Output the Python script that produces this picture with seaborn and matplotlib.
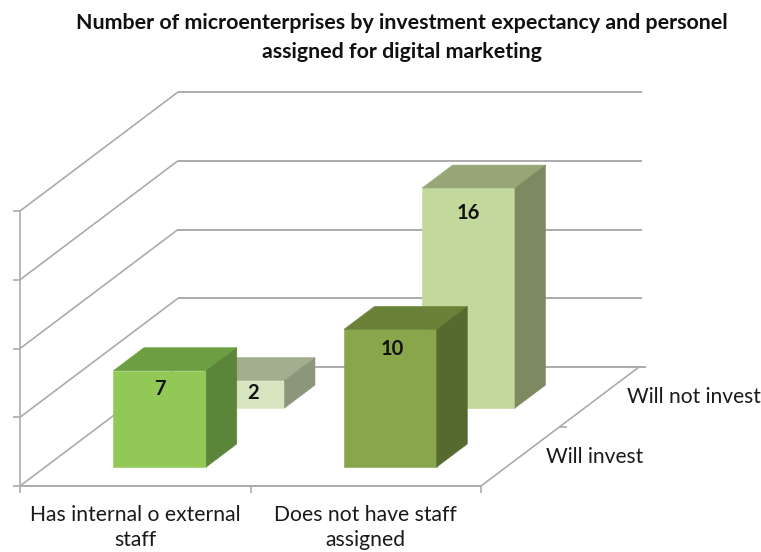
import matplotlib
matplotlib.use("Agg")
import matplotlib.pyplot as plt
from matplotlib.patches import Polygon
import seaborn as sns

sns.set_theme(style="white")
plt.rcParams["font.family"] = ["Lato", "DejaVu Sans"]

# ---- data ----
categories = ["Has internal o external\nstaff", "Does not have staff\nassigned"]
series_names = ["Will invest", "Will not invest"]
will_invest = [7, 10]
will_not_invest = [2, 16]
value_ticks = [0, 5, 10, 15, 20]
title = "Number of microenterprises by investment expectancy and personel\nassigned for digital marketing"

# ---- colours per (series, category): front, top, side ----
colors = {
    (0, 0): ("#92C956", "#6C9F41", "#5B8639"),
    (0, 1): ("#8AA64B", "#6A8238", "#566A2F"),
    (1, 0): ("#D6E5C0", "#A3AE8E", "#8B967B"),
    (1, 1): ("#C3D89B", "#97A677", "#7D8A61"),
}
GRID = "#ABABAB"
TEXT = "#1A1A1A"

# label offsets from the bar's front top centre, px (layout)
label_offsets = {
    (0, 0): (0, 18),
    (0, 1): (2, 20),
    (1, 0): (15, 12),
    (1, 1): (0, 25),
}

# ---- oblique projection (layout) ----
ORIGIN = (20.0, 486.0)
CAT_W = 230.5       # px per category
UNIT = 13.75        # px per value unit
DEPTH = (158.0, -119.0)  # px for the full depth of the floor


def project(c, d, v):
    """c: category units, d: depth fraction, v: value -> pixel position."""
    return (ORIGIN[0] + c * CAT_W + d * DEPTH[0],
            ORIGIN[1] + d * DEPTH[1] - v * UNIT)


fig = plt.figure(figsize=(7.61, 5.52), dpi=100, facecolor="white")
ax = fig.add_axes([0, 0, 1, 1])
ax.set_xlim(0, 761)
ax.set_ylim(552, 0)
ax.axis("off")


def line(p, q, lw=1.2, color=GRID, z=1):
    ax.plot([p[0], q[0]], [p[1], q[1]], color=color, lw=lw, zorder=z,
            solid_capstyle="butt")


n = len(categories)
vmax = value_ticks[-1]

# walls and gridlines
for v in value_ticks:
    line(project(0, 0, v), project(0, 1, v))
    a = project(0, 1, v)
    b = project(n, 1, v)
    line(a, (b[0] + 3, b[1]), lw=1.4)
    t = project(0, 0, v)
    line((t[0] - 7, t[1]), t)
line(project(0, 0, 0), project(0, 0, vmax))

# floor edges and ticks
line(project(0, 0, 0), project(n, 0, 0), lw=1.4)
e = project(n, 1, 0)
line(project(n, 0, 0), project(n, 1, 0))
line(e, (e[0] + 7, e[1]), lw=1.4)
for c in range(n + 1):
    p = project(c, 0, 0)
    line(p, (p[0], p[1] + 7))
m = project(n, 0.5, 0)
line(m, (m[0] + 7, m[1]))

# bars, back row first
BAR_W = 0.403       # in category units
BAR_D = 0.193       # depth fraction of a bar
ROW_D = [0.16, 0.655]
series_values = [will_invest, will_not_invest]

for s in (1, 0):
    for c in range(n):
        v = series_values[s][c]
        cx = c + 0.497
        x0 = cx - BAR_W / 2
        x1 = cx + BAR_W / 2
        d0 = ROW_D[s]
        d1 = d0 + BAR_D
        front, top, side = colors[(s, c)]
        z = 3 + (1 - s) * 3
        ax.add_patch(Polygon([project(x0, d0, 0), project(x1, d0, 0),
                              project(x1, d0, v), project(x0, d0, v)],
                             closed=True, fc=front, ec=front, lw=0.4, zorder=z))
        ax.add_patch(Polygon([project(x0, d0, v), project(x1, d0, v),
                              project(x1, d1, v), project(x0, d1, v)],
                             closed=True, fc=top, ec=top, lw=0.4, zorder=z))
        ax.add_patch(Polygon([project(x1, d0, 0), project(x1, d1, 0),
                              project(x1, d1, v), project(x1, d0, v)],
                             closed=True, fc=side, ec=side, lw=0.4, zorder=z))
        lx, ly = project(cx, d0, v)
        dx, dy = label_offsets[(s, c)]
        ax.text(lx + dx, ly + dy, str(v), ha="center", va="center", fontsize=14.5,
                fontweight="bold", color="#111111", zorder=z + 1)

# category labels
for c, label in enumerate(categories):
    lx, ly = project(c + 0.5, 0, 0)
    ax.text(lx, ly + 19, label, ha="center", va="top", fontsize=15.2,
            color=TEXT, linespacing=1.3)

# depth labels
ax.text(595, 457, series_names[0], ha="center", va="center", fontsize=15.1, color=TEXT)
ax.text(693.5, 397, series_names[1], ha="center", va="center", fontsize=15.1, color=TEXT)

# title
ax.text(402, 37.5, title, ha="center", va="center", fontsize=15.4, fontweight="bold",
        color="#111111", linespacing=1.62)

fig.savefig("out.png", dpi=100, facecolor="white")
